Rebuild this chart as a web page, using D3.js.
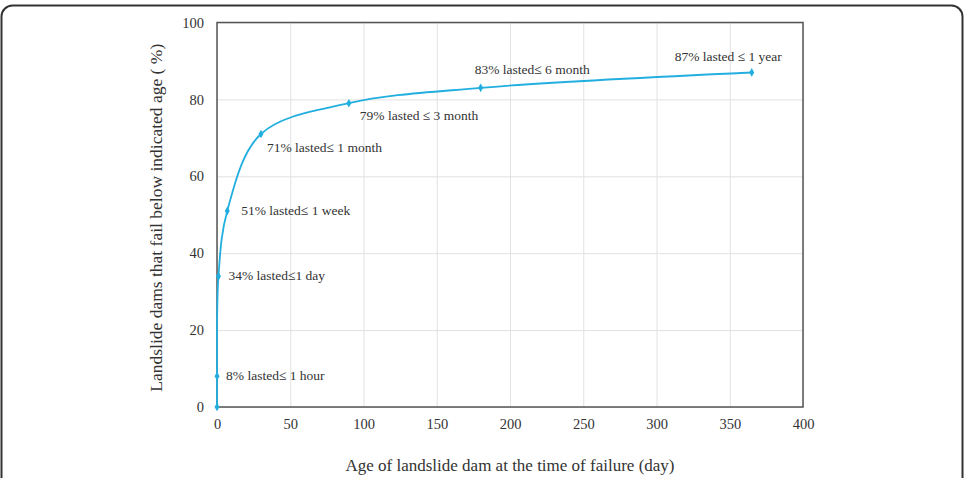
<!DOCTYPE html>
<html>
<head>
<meta charset="utf-8">
<script src="https://cdn.jsdelivr.net/npm/d3@7"></script>
<style>
  body { margin: 0; background: #fff; }
  .grid line { stroke: #e2e2e2; stroke-width: 1; }
  .grid path { display: none; }
  .axis path, .axis line { display: none; }
  .axis text { font-family: "Liberation Serif", "Times New Roman", serif; font-size: 14.5px; fill: #333; }
</style>
</head>
<body>
<svg id="chart" width="967" height="478"></svg>
<script>
// values (days, % failed)
var ages = [0, 1 / 24, 1, 7, 30, 90, 180, 365];
var percents = [0, 8, 34, 51, 71, 79, 83, 87];
var labels = [null, "8% lasted\u2264 1 hour", "34% lasted\u22641 day", "51% lasted\u2264 1 week",
    "71% lasted\u2264 1 month", "79% lasted \u2264 3 month", "83% lasted\u2264 6 month", "87% lasted \u2264 1 year"];
var x_ticks = [0, 50, 100, 150, 200, 250, 300, 350, 400];
var y_ticks = [0, 20, 40, 60, 80, 100];

var svg = d3.select("#chart");
var lineColor = "#22afe0";

// outer rounded frame
svg.append("rect")
    .attr("x", 1.5).attr("y", 5.5)
    .attr("width", 961).attr("height", 490)
    .attr("rx", 11)
    .attr("fill", "none")
    .attr("stroke", "#333")
    .attr("stroke-width", 2);

var plotLeft = 217, plotRight = 803, plotTop = 22.5, plotBottom = 407;

var xScale = d3.scaleLinear().domain([0, 400]).range([plotLeft, plotRight]);
var yScale = d3.scaleLinear().domain([0, 100]).range([plotBottom, plotTop]);

// gridlines
svg.append("g")
    .attr("class", "grid")
    .attr("transform", "translate(0," + plotBottom + ")")
    .call(d3.axisBottom(xScale).tickValues(x_ticks).tickSize(-(plotBottom - plotTop)).tickFormat(""));
svg.append("g")
    .attr("class", "grid")
    .attr("transform", "translate(" + plotLeft + ",0)")
    .call(d3.axisLeft(yScale).tickValues(y_ticks).tickSize(-(plotRight - plotLeft)).tickFormat(""));

// plot border
svg.append("rect")
    .attr("x", plotLeft).attr("y", plotTop)
    .attr("width", plotRight - plotLeft).attr("height", plotBottom - plotTop)
    .attr("fill", "none")
    .attr("stroke", "#555")
    .attr("stroke-width", 1.5);

// tick labels
svg.append("g")
    .attr("class", "axis")
    .attr("transform", "translate(0," + plotBottom + ")")
    .call(d3.axisBottom(xScale).tickValues(x_ticks).tickSize(0).tickPadding(12));
svg.append("g")
    .attr("class", "axis")
    .attr("transform", "translate(" + plotLeft + ",0)")
    .call(d3.axisLeft(yScale).tickValues(y_ticks).tickSize(0).tickPadding(13));

var data = ages.map(function(a, i) { return { age: a, pct: percents[i], label: labels[i] }; });

var line = d3.line()
    .x(function(d) { return xScale(d.age); })
    .y(function(d) { return yScale(d.pct); })
    .curve(d3.curveCatmullRom.alpha(0.5));

svg.append("path")
    .datum(data)
    .attr("d", line)
    .attr("fill", "none")
    .attr("stroke", lineColor)
    .attr("stroke-width", 1.8);

svg.selectAll(".marker")
    .data(data)
    .enter().append("path")
    .attr("class", "marker")
    .attr("d", d3.symbol().type(d3.symbolDiamond).size(22))
    .attr("transform", function(d) { return "translate(" + xScale(d.age) + "," + yScale(d.pct) + ")"; })
    .attr("fill", lineColor);

// label offsets from each point
var offsets = [null, [9, 1], [10, 1], [14, 1], [6, 15], [11, 14], [-6, -17], [-77, -15]];

svg.selectAll(".note")
    .data(data.filter(function(d) { return d.label; }))
    .enter().append("text")
    .attr("class", "note")
    .attr("x", function(d) { return xScale(d.age) + offsets[data.indexOf(d)][0]; })
    .attr("y", function(d) { return yScale(d.pct) + offsets[data.indexOf(d)][1]; })
    .attr("dominant-baseline", "middle")
    .attr("font-family", "'Liberation Serif', 'Times New Roman', serif")
    .attr("font-size", "13.5px")
    .attr("fill", "#333")
    .text(function(d) { return d.label; });

// axis titles
svg.append("text")
    .attr("x", (plotLeft + plotRight) / 2)
    .attr("y", 471)
    .attr("text-anchor", "middle")
    .attr("font-family", "'Liberation Serif', 'Times New Roman', serif")
    .attr("font-size", "17px")
    .attr("fill", "#333")
    .text("Age of landslide dam at the time of failure (day)");

svg.append("text")
    .attr("transform", "translate(162," + ((plotTop + plotBottom) / 2 + 3) + ") rotate(-90)")
    .attr("text-anchor", "middle")
    .attr("font-family", "'Liberation Serif', 'Times New Roman', serif")
    .attr("font-size", "17.5px")
    .attr("fill", "#333")
    .text("Landslide dams that fail below indicated age ( %)");
</script>
</body>
</html>
